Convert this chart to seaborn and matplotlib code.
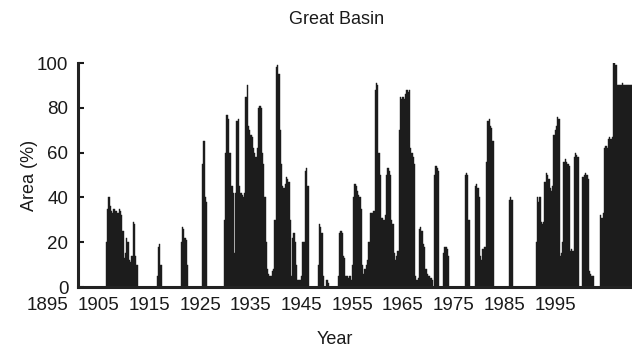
import numpy as np
import pandas as pd
import matplotlib
matplotlib.use("Agg")
import matplotlib.pyplot as plt
import matplotlib.transforms as mtransforms
import seaborn as sns

# Percent area in drought, quarterly values (4 per year), one list per decade
area_1895_1904 = [0, 0, 0, 0,  0, 0, 0, 0,  0, 0, 0, 0,  0, 0, 0, 0,  0, 0, 0, 0,
                  0, 0, 20, 35,  40, 36, 34, 33,  35, 34, 34, 33,  35, 34, 32, 25,  13, 15, 22, 20]
area_1905_1914 = [12, 11, 14, 29,  28, 14, 10, 0,  0, 0, 0, 0,  0, 0, 0, 0,  0, 0, 0, 0,
                  0, 0, 5, 18,  19, 10, 0, 0,  0, 0, 0, 0,  0, 0, 0, 0,  0, 0, 0, 0]
area_1915_1924 = [0, 20, 27, 26,  22, 21, 10, 0,  0, 0, 0, 0,  0, 0, 0, 0,  0, 0, 55, 65,
                  40, 38, 0, 0,  0, 0, 0, 0,  0, 0, 0, 0,  0, 0, 0, 30,  60, 77, 75, 60]
area_1925_1934 = [60, 45, 42, 15,  42, 74, 75, 45,  42, 41, 40, 42,  85, 90, 72, 70,  68, 67, 62, 60,
                  58, 62, 80, 81,  80, 60, 55, 40,  20, 8, 6, 5,  5, 7, 8, 30,  98, 99, 95, 70]
area_1935_1944 = [55, 45, 44, 46,  49, 48, 47, 30,  5, 22, 24, 20,  10, 3, 3, 3,  5, 20, 20, 52,
                  53, 45, 0, 0,  0, 0, 0, 0,  0, 10, 28, 27,  24, 5, 0, 0,  3, 2, 0, 0]
area_1945_1954 = [0, 0, 0, 0,  0, 5, 24, 25,  24, 14, 13, 5,  5, 4, 5, 3,  10, 40, 46, 45,
                  43, 41, 40, 35,  10, 6, 8, 10,  12, 20, 33, 33,  33, 34, 88, 91,  90, 60, 50, 31]
area_1955_1964 = [31, 30, 32, 50,  53, 52, 50, 30,  28, 15, 12, 14,  16, 70, 85, 84,  85, 84, 86, 88,
                  87, 88, 62, 60,  58, 55, 5, 3,  4, 26, 27, 25,  19, 18, 8, 6,  5, 5, 4, 3]
area_1965_1974 = [0, 50, 54, 53,  52, 0, 0, 0,  15, 18, 18, 17,  14, 0, 0, 0,  0, 0, 0, 0,
                  0, 0, 0, 0,  0, 50, 51, 50,  30, 0, 0, 0,  0, 45, 46, 44,  40, 14, 12, 17]
area_1975_1984 = [18, 18, 56, 74,  75, 72, 71, 65,  0, 0, 0, 0,  0, 0, 0, 0,  0, 0, 0, 0,
                  39, 40, 39, 0,  0, 0, 0, 0,  0, 0, 0, 0,  0, 0, 0, 0,  0, 0, 0, 0]
area_1985_1994 = [0, 20, 40, 38,  40, 29, 28, 29,  47, 51, 50, 48,  44, 43, 45, 68,  70, 72, 76, 75,
                  14, 15, 20, 56,  57, 56, 55, 54,  16, 17, 16, 58,  60, 59, 58, 0,  0, 0, 49, 50]
area_1995_2004 = [51, 50, 48, 7,  6, 5, 5, 0,  0, 0, 0, 0,  32, 31, 33, 62,  63, 62, 66, 67,
                  66, 67, 100, 100,  99, 90, 90, 90,  90, 91, 90, 90,  90, 90, 90, 90,  90, 90, 90, 90]

first_year = 1895
tick_years = [1895, 1905, 1915, 1925, 1935, 1945, 1955, 1965, 1975, 1985, 1995]
y_ticks = [0, 20, 40, 60, 80, 100]

series = (area_1895_1904 + area_1905_1914 + area_1915_1924 + area_1925_1934 +
          area_1935_1944 + area_1945_1954 + area_1955_1964 + area_1965_1974 +
          area_1975_1984 + area_1985_1994 + area_1995_2004)
quarter_pos = first_year + 0.125 + 0.25 * np.arange(len(series))
df = pd.DataFrame({"year": quarter_pos, "area": series})

sns.set_theme(style="white")
plt.rcParams["font.family"] = ["Liberation Sans", "DejaVu Sans"]

fig = plt.figure(figsize=(6.32, 3.54), dpi=100)
W, H = 632, 354
ax = fig.add_axes([78 / W, 1 - 287 / H, 1 - 78 / W, (287 - 63) / H])

bar_color = "#1c1c1c"
sns.barplot(data=df, x="year", y="area", native_scale=True, width=1.0,
            color=bar_color, saturation=1, errorbar=None,
            edgecolor=bar_color, linewidth=0.3, ax=ax)

ax.set_xlim(first_year, first_year + (632 - 78) / 5.07)
ax.set_ylim(0, 100)
ax.set_yticks(y_ticks)
ax.set_yticklabels([str(v) for v in y_ticks])
ax.set_xticks(tick_years)
ax.set_xticklabels([str(y) for y in tick_years])
ax.set_xlabel("")
ax.set_ylabel("")

ax.tick_params(axis="y", direction="in", length=4, width=1.5, pad=7,
               labelsize=13.5, colors="#1a1a1a", left=True)
ax.tick_params(axis="x", length=0, pad=7, labelsize=13.5, colors="#1a1a1a")

offset = mtransforms.ScaledTranslation(-30 / 100, 0, fig.dpi_scale_trans)
for lbl in ax.get_xticklabels():
    lbl.set_transform(lbl.get_transform() + offset)

for side in ["top", "right"]:
    ax.spines[side].set_visible(False)
for side in ["left", "bottom"]:
    ax.spines[side].set_linewidth(2.2)
    ax.spines[side].set_color("#222222")

fig.text(337 / W, 1 - 19 / H, "Great Basin", ha="center", va="center",
         fontsize=13, color="#1a1a1a")
fig.text(335 / W, 1 - 340 / H, "Year", ha="center", va="center",
         fontsize=13, color="#1a1a1a")
fig.text(30 / W, 1 - 175 / H, "Area (%)", ha="center", va="center",
         rotation=90, fontsize=13, color="#1a1a1a")

fig.savefig("out.png", dpi=100, facecolor="white")
